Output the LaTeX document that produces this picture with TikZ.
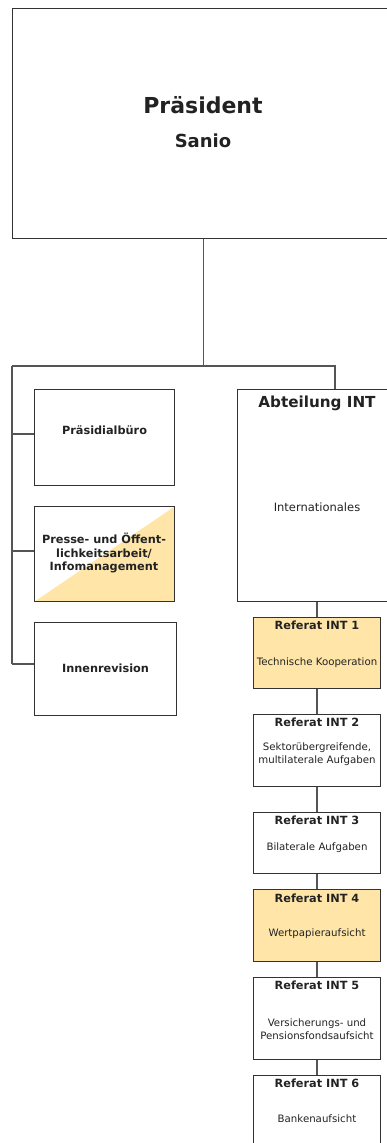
\documentclass[tikz,border=0pt]{standalone}
\usepackage{fontspec}
\setmainfont{DejaVu Sans}
\definecolor{yel}{HTML}{FFE6A8}
\definecolor{boxline}{HTML}{333333}
\definecolor{conline}{HTML}{555555}
\definecolor{txt}{HTML}{222222}
\begin{document}
\begin{tikzpicture}[x=1pt,y=-1pt,
  box/.style={draw=boxline,line width=1.1pt,inner sep=0pt,anchor=north west},
  con/.style={draw=conline,line width=1.1pt},
  tbold/.style={font=\bfseries\fontsize{11.3}{13.3}\selectfont,text=txt,inner sep=0pt,anchor=base,align=center},
  tdesc/.style={font=\fontsize{10.2}{13.3}\selectfont,text=txt,inner sep=0pt,anchor=base,align=center},
]
\useasboundingbox (0,0) rectangle (387,1143);
\clip (0,0) rectangle (387,1143);
% President
\node[box,minimum width=382pt,minimum height=230pt] (pres) at (12,8) {};
\node[font=\bfseries\fontsize{22}{24}\selectfont,text=txt,inner sep=0pt,anchor=base] (presT) at (203,113) {Präsident};
\node[font=\bfseries\fontsize{18}{20}\selectfont,text=txt,inner sep=0pt,anchor=base] (presN) at (203,147) {Sanio};
% left column
\node[box,minimum width=140pt,minimum height=96pt] (pb) at (34,389) {};
\node[tbold] (pbT) at (pb.center |- 0,434) {Präsidialbüro};
\node[box,minimum width=140pt,minimum height=95pt] (pr) at (34,506) {};
\fill[yel] ([shift={(0.55,-0.55)}]pr.south west) -- ([shift={(-0.55,0.55)}]pr.north east) -- ([shift={(-0.55,-0.55)}]pr.south east) -- cycle;
\node[box,minimum width=140pt,minimum height=95pt] at (34,506) {};
\node[tbold,anchor=center] (prT) at (104,553) {Presse- und Öffent-\\lichkeitsarbeit/\\Infomanagement};
\node[box,minimum width=142pt,minimum height=93pt] (inn) at (34,622) {};
\node[tbold] (innT) at (inn.center |- 0,672) {Innenrevision};
% Abteilung
\node[box,minimum width=160pt,minimum height=212pt] (abt) at (237,389) {};
\node[font=\bfseries\fontsize{15.2}{18}\selectfont,text=txt,inner sep=0pt,anchor=base] (abtT) at (317,407) {Abteilung INT};
\node[font=\fontsize{11.5}{13}\selectfont,text=txt,inner sep=0pt,anchor=base] (abtD) at (317,511.5) {Internationales};
% Referate
\node[box,fill=yel,minimum width=127pt,minimum height=71pt] (r1) at (253,617) {};
\node[tbold] at (317,629) {Referat INT 1};
\node[tdesc] at (317,665) {Technische Kooperation};
\node[box,minimum width=127pt,minimum height=72pt] (r2) at (253,714) {};
\node[tbold] at (317,726.5) {Referat INT 2};
\node[tdesc,anchor=center] at (317,754) {Sektorübergreifende,\\multilaterale Aufgaben};
\node[box,minimum width=127pt,minimum height=61pt] (r3) at (253,812) {};
\node[tbold] at (317,824) {Referat INT 3};
\node[tdesc] at (317,850.5) {Bilaterale Aufgaben};
\node[box,fill=yel,minimum width=127pt,minimum height=72pt] (r4) at (253,889) {};
\node[tbold] at (317,902) {Referat INT 4};
\node[tdesc] at (317,936.5) {Wertpapieraufsicht};
\node[box,minimum width=127pt,minimum height=82pt] (r5) at (253,977) {};
\node[tbold] at (317,989) {Referat INT 5};
\node[tdesc,anchor=center] at (317,1029) {Versicherungs- und\\Pensionsfondsaufsicht};
\node[box,minimum width=127pt,minimum height=80pt] (r6) at (253,1075) {};
\node[tbold] at (317,1087) {Referat INT 6};
\node[tdesc] at (317,1122) {Bankenaufsicht};
% connectors
\coordinate (jL) at (12,366);
\coordinate (jR) at (335,366);
\draw[con] (pres.south) -- (pres.south |- jL);
\draw[con] (jL) -- (jR) -- (jR |- abt.north);
\draw[con] (jL) -- (jL |- 0,664);
\draw[con] (jL |- 0,434) -- (pb.west |- 0,434);
\draw[con] (jL |- 0,551) -- (pr.west |- 0,551);
\draw[con] (jL |- 0,664) -- (inn.west |- 0,664);
\draw[con] (abt.south -| 317,0) -- (r1.north -| 317,0);
\draw[con] (r1.south -| 317,0) -- (r2.north -| 317,0);
\draw[con] (r2.south -| 317,0) -- (r3.north -| 317,0);
\draw[con] (r3.south -| 317,0) -- (r4.north -| 317,0);
\draw[con] (r4.south -| 317,0) -- (r5.north -| 317,0);
\draw[con] (r5.south -| 317,0) -- (r6.north -| 317,0);
\end{tikzpicture}
\end{document}
